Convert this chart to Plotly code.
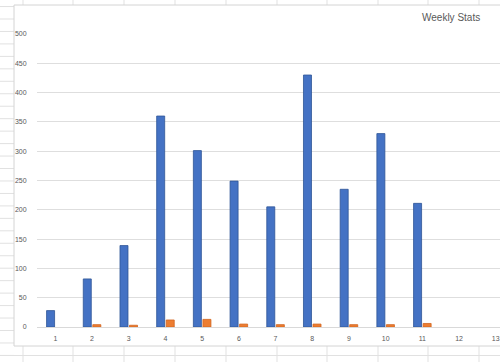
import plotly.graph_objects as go

weeks = list(range(1, 14))
series1 = [28, 82, 139, 360, 301, 249, 205, 430, 235, 330, 211, None, None]
series2 = [None, 4, 3, 12, 13, 5, 4, 5, 4, 4, 6, None, None]
y_ticks = list(range(0, 501, 50))
title_text = "Weekly Stats"

W, H = 500, 362
ML, MR, MT, MB = 37, 0, 34, 35
PW, PH = W - ML - MR, H - MT - MB


def px(x):
    return (x - ML) / PW


def py(y):
    return (H - MB - y) / PH


fig = go.Figure()
fig.add_trace(go.Bar(x=weeks, y=series1, name="Series1",
                     marker=dict(color="#4472C4", line=dict(color="#2F5597", width=0.8))))
fig.add_trace(go.Bar(x=weeks, y=series2, name="Series2",
                     marker=dict(color="#ED7D31", line=dict(color="#D0651F", width=0.8))))

shapes = []
sheet_grid = "#e1e1e1"
# spreadsheet column lines (top and bottom strips)
for cx in [23, 73, 124, 175, 226, 277, 327, 378, 428, 479]:
    shapes.append(dict(type="line", xref="paper", yref="paper", x0=px(cx), x1=px(cx),
                       y0=py(0), y1=py(5), line=dict(color=sheet_grid, width=1), layer="below"))
    shapes.append(dict(type="line", xref="paper", yref="paper", x0=px(cx), x1=px(cx),
                       y0=py(346), y1=py(362), line=dict(color=sheet_grid, width=1), layer="below"))
# spreadsheet row lines (left strip)
for k in range(-1, 28):
    ry = 19 + k * 12.46
    shapes.append(dict(type="line", xref="paper", yref="paper", x0=px(0), x1=px(14),
                       y0=py(ry), y1=py(ry), line=dict(color=sheet_grid, width=1), layer="below"))
shapes.append(dict(type="line", xref="paper", yref="paper", x0=px(0), x1=px(500),
                   y0=py(355.5), y1=py(355.5), line=dict(color=sheet_grid, width=1), layer="below"))
# chart border
border = "#d4d4d4"
shapes.append(dict(type="line", xref="paper", yref="paper", x0=px(14), x1=px(14),
                   y0=py(5), y1=py(346), line=dict(color=border, width=1), layer="below"))
shapes.append(dict(type="line", xref="paper", yref="paper", x0=px(14), x1=px(501),
                   y0=py(5), y1=py(5), line=dict(color=border, width=1), layer="below"))
shapes.append(dict(type="line", xref="paper", yref="paper", x0=px(14), x1=px(501),
                   y0=py(346), y1=py(346), line=dict(color=border, width=1), layer="below"))

fig.update_layout(
    width=W, height=H,
    margin=dict(l=ML, r=MR, t=MT, b=MB, pad=0),
    paper_bgcolor="white", plot_bgcolor="white",
    barmode="group", bargap=0.48, bargroupgap=0.16,
    showlegend=False,
    font=dict(family="Liberation Sans, Arial, sans-serif", color="#595959"),
    shapes=shapes,
    annotations=[dict(text=title_text, xref="paper", yref="paper", x=px(482), y=py(17),
                      xanchor="right", yanchor="middle", showarrow=False,
                      font=dict(size=10, color="#595959"))],
    xaxis=dict(range=[0.5, 0.5 + PW / 36.7], tickmode="array", tickvals=weeks,
               ticktext=[str(w) for w in weeks], showgrid=False, zeroline=False,
               showline=True, linecolor="#d9d9d9", linewidth=1,
               ticks="outside", ticklen=5, tickcolor="rgba(0,0,0,0)",
               tickfont=dict(size=7, color="#595959")),
    yaxis=dict(range=[0, 500], tickmode="array", tickvals=y_ticks,
               ticktext=[str(v) for v in y_ticks], showgrid=True, gridcolor="#dedede",
               gridwidth=1, zeroline=False, showline=False,
               ticks="outside", ticklen=8, tickcolor="rgba(0,0,0,0)",
               tickfont=dict(size=7, color="#595959")),
)

fig.write_html("out.html", config={"displayModeBar": False},
               post_script="document.body.style.margin='0';document.body.style.overflow='hidden';")
